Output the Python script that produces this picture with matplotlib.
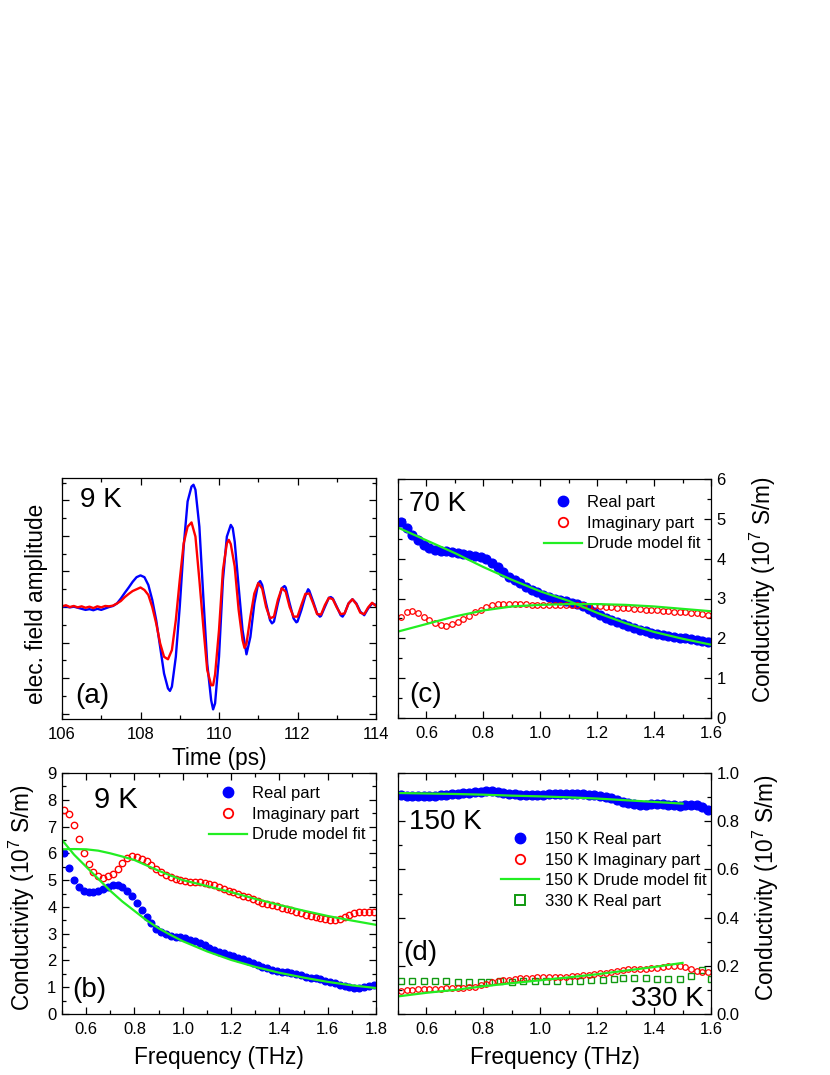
import matplotlib
matplotlib.use("Agg")
import matplotlib.pyplot as plt
from matplotlib.ticker import MultipleLocator, FixedLocator, FormatStrFormatter
from matplotlib.lines import Line2D

plt.rcParams["font.family"] = ["Liberation Sans", "DejaVu Sans"]
plt.rcParams["mathtext.default"] = "regular"

# ======================
# DATA
# ======================
# (a) time-domain THz pulses at 9 K
t_blue = [106.0, 106.1, 106.2, 106.3, 106.4, 106.5, 106.6, 106.7, 106.8, 106.9,
          107.0, 107.1, 107.2, 107.3, 107.4, 107.5, 107.6, 107.7, 107.8, 107.9,
          108.0, 108.1, 108.2, 108.3, 108.4, 108.5, 108.6, 108.7, 108.75, 108.8,
          108.9, 109.0, 109.1, 109.2, 109.3, 109.35, 109.4, 109.5, 109.6, 109.7,
          109.8, 109.85, 109.9, 110.0, 110.1, 110.2, 110.3, 110.35, 110.4, 110.5,
          110.6, 110.7, 110.8, 110.9, 111.0, 111.05, 111.1, 111.2, 111.3, 111.35,
          111.4, 111.5, 111.6, 111.67, 111.7, 111.8, 111.9, 111.97, 112.0, 112.1,
          112.2, 112.27, 112.3, 112.4, 112.5, 112.57, 112.6, 112.7, 112.8, 112.85,
          112.9, 113.0, 113.1, 113.15, 113.2, 113.3, 113.4, 113.5, 113.6, 113.7,
          113.8, 113.9, 114.0]
e_blue = [0.0, 0.02, -0.01, 0.01, -0.02, -0.05, -0.08, -0.06, -0.09, -0.05,
          -0.08, -0.04, 0.0, 0.03, 0.1, 0.24, 0.4, 0.55, 0.71, 0.84,
          0.89, 0.84, 0.62, 0.2, -0.37, -1.12, -1.87, -2.29, -2.36, -2.24,
          -1.4, 0.01, 1.7, 2.97, 3.39, 3.44, 3.3, 2.26, 0.29, -1.59,
          -2.62, -2.88, -2.71, -1.4, 0.76, 1.98, 2.31, 2.22, 1.84, 0.57,
          -0.65, -1.33, -0.84, 0.1, 0.67, 0.73, 0.62, 0.1, -0.37, -0.46,
          -0.41, 0.1, 0.53, 0.59, 0.55, 0.1, -0.32, -0.43, -0.41, -0.08,
          0.31, 0.5, 0.46, 0.15, -0.18, -0.27, -0.25, 0.01, 0.26, 0.28,
          0.24, 0.01, -0.23, -0.27, -0.18, 0.1, 0.22, 0.1, -0.13, -0.23,
          -0.04, 0.1, 0.06]

t_red = [106.0, 106.1, 106.2, 106.3, 106.4, 106.5, 106.6, 106.7, 106.8, 106.9,
         107.0, 107.1, 107.2, 107.3, 107.4, 107.5, 107.6, 107.7, 107.8, 107.9,
         108.0, 108.1, 108.2, 108.3, 108.4, 108.5, 108.6, 108.7, 108.8, 108.9,
         109.0, 109.1, 109.2, 109.3, 109.4, 109.5, 109.6, 109.7, 109.8, 109.85,
         109.9, 110.0, 110.1, 110.2, 110.25, 110.3, 110.4, 110.5, 110.6, 110.65,
         110.7, 110.8, 110.9, 111.0, 111.1, 111.2, 111.3, 111.4, 111.5, 111.6,
         111.7, 111.8, 111.9, 112.0, 112.1, 112.2, 112.3, 112.4, 112.5, 112.6,
         112.7, 112.8, 112.9, 113.0, 113.1, 113.2, 113.3, 113.4, 113.5, 113.6,
         113.7, 113.8, 113.9, 114.0]
e_red = [0.02, 0.05, 0.0, 0.03, -0.01, 0.02, -0.02, 0.01, -0.03, 0.02,
         -0.01, 0.03, 0.02, 0.04, 0.1, 0.17, 0.28, 0.37, 0.45, 0.5,
         0.55, 0.48, 0.34, 0.0, -0.46, -1.02, -1.4, -1.47, -1.21, -0.37,
         0.76, 1.79, 2.26, 2.38, 1.98, 0.76, -0.55, -1.77, -2.2, -2.2,
         -1.9, -0.65, 1.04, 1.79, 1.89, 1.77, 1.14, -0.08, -0.93, -1.15,
         -1.03, -0.27, 0.38, 0.67, 0.52, 0.0, -0.32, -0.27, 0.2, 0.53,
         0.43, 0.0, -0.27, -0.27, 0.06, 0.37, 0.38, 0.1, -0.2, -0.21,
         0.06, 0.26, 0.22, -0.01, -0.2, -0.18, 0.1, 0.22, 0.08, -0.16,
         -0.2, -0.01, 0.12, 0.03]

# frequency points (THz)
freq = [0.51, 0.53, 0.55, 0.57, 0.59, 0.61, 0.63, 0.65, 0.67, 0.69,
        0.71, 0.73, 0.75, 0.77, 0.79, 0.81, 0.83, 0.85, 0.87, 0.89,
        0.91, 0.93, 0.95, 0.97, 0.99, 1.01, 1.03, 1.05, 1.07, 1.09,
        1.11, 1.13, 1.15, 1.17, 1.19, 1.21, 1.23, 1.25, 1.27, 1.29,
        1.31, 1.33, 1.35, 1.37, 1.39, 1.41, 1.43, 1.45, 1.47, 1.49,
        1.51, 1.53, 1.55, 1.57, 1.59, 1.61, 1.63, 1.65, 1.67, 1.69,
        1.71, 1.73, 1.75, 1.77, 1.79]

# (b) 9 K conductivity
real_9k = [6.0, 5.45, 5.0, 4.75, 4.6, 4.55, 4.57, 4.6, 4.68, 4.76,
           4.8, 4.81, 4.75, 4.6, 4.4, 4.13, 3.87, 3.62, 3.38, 3.18,
           3.06, 2.97, 2.92, 2.89, 2.86, 2.82, 2.78, 2.72, 2.64, 2.56,
           2.48, 2.40, 2.33, 2.26, 2.20, 2.15, 2.10, 2.05, 1.98, 1.91,
           1.84, 1.77, 1.71, 1.66, 1.62, 1.58, 1.55, 1.52, 1.48, 1.44,
           1.40, 1.36, 1.33, 1.29, 1.25, 1.20, 1.14, 1.08, 1.03, 1.00,
           0.98, 0.98, 0.99, 1.04, 1.10]
imag_9k = [7.6, 7.48, 7.05, 6.54, 6.01, 5.6, 5.3, 5.14, 5.08, 5.14,
           5.24, 5.42, 5.64, 5.82, 5.89, 5.87, 5.80, 5.70, 5.58, 5.43,
           5.29, 5.19, 5.11, 5.04, 4.99, 4.96, 4.93, 4.92, 4.92, 4.89,
           4.87, 4.82, 4.76, 4.68, 4.61, 4.55, 4.48, 4.42, 4.36, 4.30,
           4.22, 4.15, 4.11, 4.06, 4.02, 3.97, 3.92, 3.87, 3.82, 3.76,
           3.71, 3.67, 3.62, 3.59, 3.55, 3.52, 3.52, 3.56, 3.62, 3.71,
           3.77, 3.80, 3.80, 3.80, 3.80]
fit_f_9k = [0.5, 0.55, 0.6, 0.65, 0.7, 0.75, 0.8, 0.85, 0.9, 0.95, 1.0,
            1.1, 1.2, 1.3, 1.4, 1.5, 1.6, 1.7, 1.8]
fit_real_9k = [6.5, 5.95, 5.5, 5.05, 4.6, 4.2, 3.85, 3.5, 3.2, 2.95, 2.72,
               2.34, 2.02, 1.76, 1.54, 1.36, 1.2, 1.07, 0.97]
fit_imag_9k = [6.15, 6.16, 6.15, 6.1, 6.0, 5.88, 5.75, 5.55, 5.35, 5.17, 5.0,
               4.78, 4.55, 4.3, 4.07, 3.86, 3.66, 3.49, 3.33]

# (c) 70 K conductivity
real_70k = [4.93, 4.77, 4.6, 4.46, 4.35, 4.28, 4.23, 4.2, 4.18, 4.16,
            4.14, 4.12, 4.09, 4.06, 4.03, 3.98, 3.89, 3.78, 3.66, 3.55,
            3.46, 3.38, 3.30, 3.22, 3.16, 3.10, 3.05, 3.00, 2.97, 2.93,
            2.89, 2.85, 2.80, 2.73, 2.66, 2.59, 2.52, 2.46, 2.40, 2.35,
            2.30, 2.26, 2.22, 2.18, 2.14, 2.11, 2.08, 2.06, 2.04, 2.02,
            2.00, 1.98, 1.96, 1.94, 1.92]
imag_70k = [2.54, 2.65, 2.68, 2.63, 2.54, 2.45, 2.38, 2.33, 2.32, 2.35,
            2.41, 2.49, 2.57, 2.65, 2.72, 2.78, 2.83, 2.86, 2.87, 2.87,
            2.86, 2.85, 2.85, 2.84, 2.84, 2.84, 2.83, 2.83, 2.83, 2.83,
            2.83, 2.83, 2.83, 2.82, 2.81, 2.80, 2.79, 2.78, 2.77, 2.76,
            2.75, 2.74, 2.73, 2.72, 2.71, 2.70, 2.69, 2.68, 2.67, 2.66,
            2.65, 2.64, 2.63, 2.61, 2.59]
fit_f_70k = [0.5, 0.6, 0.7, 0.8, 0.9, 1.0, 1.1, 1.2, 1.3, 1.4, 1.5, 1.6]
fit_real_70k = [4.78, 4.46, 4.14, 3.79, 3.47, 3.18, 2.94, 2.64, 2.38, 2.16, 1.99, 1.84]
fit_imag_70k = [2.17, 2.36, 2.55, 2.70, 2.80, 2.84, 2.86, 2.86, 2.84, 2.80, 2.74, 2.68]

# (d) 150 K and 330 K conductivity
real_150k = [0.910, 0.905, 0.903, 0.903, 0.903, 0.904, 0.905, 0.907, 0.909, 0.911,
             0.913, 0.915, 0.917, 0.920, 0.922, 0.924, 0.924, 0.922, 0.918, 0.914,
             0.911, 0.909, 0.908, 0.908, 0.909, 0.910, 0.911, 0.912, 0.913, 0.914,
             0.914, 0.913, 0.911, 0.909, 0.907, 0.905, 0.902, 0.897, 0.890, 0.881,
             0.874, 0.870, 0.868, 0.868, 0.870, 0.871, 0.871, 0.869, 0.866, 0.864,
             0.866, 0.868, 0.866, 0.860, 0.845]
imag_150k = [0.094, 0.098, 0.101, 0.103, 0.104, 0.105, 0.105, 0.105, 0.106, 0.106,
             0.107, 0.108, 0.110, 0.114, 0.119, 0.125, 0.131, 0.136, 0.140, 0.143,
             0.146, 0.148, 0.150, 0.151, 0.152, 0.152, 0.152, 0.153, 0.154, 0.155,
             0.157, 0.159, 0.161, 0.163, 0.166, 0.169, 0.172, 0.176, 0.180, 0.183,
             0.185, 0.186, 0.187, 0.188, 0.190, 0.192, 0.195, 0.198, 0.200, 0.200,
             0.196, 0.188, 0.180, 0.174, 0.176]
fit_f_150k = [0.5, 0.6, 0.7, 0.8, 0.9, 1.0, 1.1, 1.2, 1.3, 1.4, 1.5]
fit_real_150k = [0.917, 0.915, 0.913, 0.910, 0.906, 0.903, 0.899, 0.894, 0.887, 0.880, 0.873]
fit_imag_150k = [0.073, 0.088, 0.100, 0.115, 0.128, 0.140, 0.152, 0.165, 0.180, 0.195, 0.212]
freq_330k = [0.51, 0.55, 0.59, 0.63, 0.67, 0.71, 0.75, 0.79, 0.82, 0.86,
             0.90, 0.94, 0.98, 1.02, 1.06, 1.10, 1.14, 1.18, 1.22, 1.26,
             1.29, 1.33, 1.37, 1.41, 1.45, 1.49, 1.53, 1.57, 1.60]
real_330k = [0.138, 0.136, 0.136, 0.136, 0.136, 0.133, 0.133, 0.133, 0.133, 0.136,
             0.133, 0.136, 0.136, 0.138, 0.138, 0.138, 0.138, 0.140, 0.142, 0.145,
             0.149, 0.149, 0.149, 0.147, 0.145, 0.145, 0.156, 0.184, 0.145]

# ======================
# FIGURE
# ======================
W, H = 830, 1075
fig = plt.figure(figsize=(W / 100, H / 100), dpi=100)

BLUE = "#0000ff"
RED = "#ff0000"
GREEN = "#22ee22"
DGREEN = "#119911"


def add_ax(l, t, r, b):
    return fig.add_axes([l / W, 1 - b / H, (r - l) / W, (b - t) / H])


def style(ax):
    ax.tick_params(which="both", direction="in", top=True, right=True,
                   labelsize=12, pad=4)
    ax.tick_params(axis="x", which="both", pad=5.5)
    ax.tick_params(which="major", length=5, width=0.9)
    ax.tick_params(which="minor", length=3, width=0.9)
    for s in ax.spines.values():
        s.set_linewidth(0.9)


def ftext(x, y, s, size=20, **kw):
    fig.text(x / W, 1 - y / H, s, fontsize=size, va="baseline", **kw)


ax_a = add_ax(62, 478, 376, 719)
ax_c = add_ax(398, 479, 711, 718)
ax_b = add_ax(62, 773, 376, 1014)
ax_d = add_ax(398, 773, 711, 1014)

# ---- (a)
ax_a.plot(t_blue, e_blue, color=BLUE, lw=1.7)
ax_a.plot(t_red, e_red, color=RED, lw=1.7)
ax_a.set_xlim(106, 114)
ax_a.set_ylim(-3.15, 3.63)
ax_a.xaxis.set_major_locator(MultipleLocator(2))
ax_a.xaxis.set_minor_locator(MultipleLocator(1))
ax_a.yaxis.set_major_locator(MultipleLocator(1))
ax_a.yaxis.set_minor_locator(MultipleLocator(0.5))
style(ax_a)
ax_a.tick_params(labelleft=False)

# ---- (b)
ax_b.plot(freq, real_9k, "o", color=BLUE, ms=4.8, mec=BLUE)
ax_b.plot(freq, imag_9k, "o", mfc="none", mec=RED, ms=4.6, mew=1.0)
ax_b.plot(fit_f_9k, fit_real_9k, color=GREEN, lw=1.6)
ax_b.plot(fit_f_9k, fit_imag_9k, color=GREEN, lw=1.6)
ax_b.set_xlim(0.5, 1.8)
ax_b.set_ylim(0, 9)
ax_b.xaxis.set_major_locator(FixedLocator([0.6, 0.8, 1.0, 1.2, 1.4, 1.6, 1.8]))
ax_b.xaxis.set_minor_locator(MultipleLocator(0.1))
ax_b.xaxis.set_major_formatter(FormatStrFormatter("%.1f"))
ax_b.yaxis.set_major_locator(MultipleLocator(1))
ax_b.yaxis.set_minor_locator(MultipleLocator(0.5))
style(ax_b)

# ---- (c)
ax_c.plot(freq[:55], real_70k, "o", color=BLUE, ms=6.3, mec=BLUE)
ax_c.plot(freq[:55], imag_70k, "o", mfc="none", mec=RED, ms=4.0, mew=0.9)
ax_c.plot(fit_f_70k, fit_real_70k, color=GREEN, lw=1.6)
ax_c.plot(fit_f_70k, fit_imag_70k, color=GREEN, lw=1.6)
ax_c.set_xlim(0.5, 1.6)
ax_c.set_ylim(0, 6)
ax_c.xaxis.set_major_locator(FixedLocator([0.6, 0.8, 1.0, 1.2, 1.4, 1.6]))
ax_c.xaxis.set_minor_locator(MultipleLocator(0.1))
ax_c.xaxis.set_major_formatter(FormatStrFormatter("%.1f"))
ax_c.yaxis.set_major_locator(MultipleLocator(1))
ax_c.yaxis.set_minor_locator(MultipleLocator(0.5))
style(ax_c)
ax_c.tick_params(labelleft=False, labelright=True)

# ---- (d)
ax_d.plot(freq[:55], real_150k, "o", color=BLUE, ms=6.3, mec=BLUE)
ax_d.plot(freq_330k, real_330k, "s", mfc="none", mec=DGREEN, ms=3.8, mew=1.0)
ax_d.plot(freq[:55], imag_150k, "o", mfc="none", mec=RED, ms=4.0, mew=0.9)
ax_d.plot(fit_f_150k, fit_real_150k, color=GREEN, lw=1.6)
ax_d.plot(fit_f_150k, fit_imag_150k, color=GREEN, lw=1.6)
ax_d.set_xlim(0.5, 1.6)
ax_d.set_ylim(0, 1.0)
ax_d.xaxis.set_major_locator(FixedLocator([0.6, 0.8, 1.0, 1.2, 1.4, 1.6]))
ax_d.xaxis.set_minor_locator(MultipleLocator(0.1))
ax_d.xaxis.set_major_formatter(FormatStrFormatter("%.1f"))
ax_d.yaxis.set_major_locator(MultipleLocator(0.2))
ax_d.yaxis.set_minor_locator(MultipleLocator(0.1))
ax_d.yaxis.set_major_formatter(FormatStrFormatter("%.1f"))
style(ax_d)
ax_d.tick_params(labelleft=False, labelright=True)

# ---- legends
h_real = Line2D([], [], ls="none", marker="o", color=BLUE, ms=7.5)
h_imag = Line2D([], [], ls="none", marker="o", mfc="none", mec=RED, ms=6.8, mew=1.3)
h_fit = Line2D([], [], color=GREEN, lw=1.6)
h_sq = Line2D([], [], ls="none", marker="s", mfc="none", mec=DGREEN, ms=7.0, mew=1.4)

leg_kw = dict(frameon=False, fontsize=12, borderpad=0, borderaxespad=0,
              labelspacing=0.34, handlelength=2.3, bbox_transform=fig.transFigure,
              loc="upper left")
ax_b.legend([h_real, h_imag, h_fit], ["Real part", "Imaginary part", "Drude model fit"],
            bbox_to_anchor=(209 / W, 1 - 786 / H), handletextpad=0.25, **leg_kw)
ax_c.legend([h_real, h_imag, h_fit], ["Real part", "Imaginary part", "Drude model fit"],
            bbox_to_anchor=(544 / W, 1 - 495 / H), handletextpad=0.3, **leg_kw)
ax_d.legend([h_real, h_imag, h_fit, h_sq],
            ["150 K Real part", "150 K Imaginary part", "150 K Drude model fit",
             "330 K Real part"],
            bbox_to_anchor=(501 / W, 1 - 832 / H), handletextpad=0.33, **leg_kw)

# ---- annotations
ftext(80, 507, "9 K")
ftext(75, 703, "(a)")
ftext(409, 511, "70 K")
ftext(409, 702, "(c)")
ftext(94, 808, "9 K", size=21)
ftext(72, 997, "(b)")
ftext(409, 829, "150 K")
ftext(403, 960, "(d)")
ftext(631, 1006, "330 K")

# ---- axis labels
ftext(219, 765, "Time (ps)", size=16.3, ha="center")
ftext(219, 1064, "Frequency (THz)", size=16.3, ha="center")
ftext(555, 1064, "Frequency (THz)", size=16.3, ha="center")

ylab = "Conductivity (10$^7$ S/m)"
fig.text(37 / W, 1 - 604 / H, "elec. field amplitude", fontsize=16.3,
         rotation=90, ha="center", va="center")
fig.text(22 / W, 1 - 898 / H, ylab, fontsize=16.3, rotation=90, ha="center", va="center")
fig.text(763 / W, 1 - 590 / H, ylab, fontsize=16.3, rotation=90, ha="center", va="center")
fig.text(766 / W, 1 - 888 / H, ylab, fontsize=16.3, rotation=90, ha="center", va="center")

fig.savefig("out.png", dpi=100)
